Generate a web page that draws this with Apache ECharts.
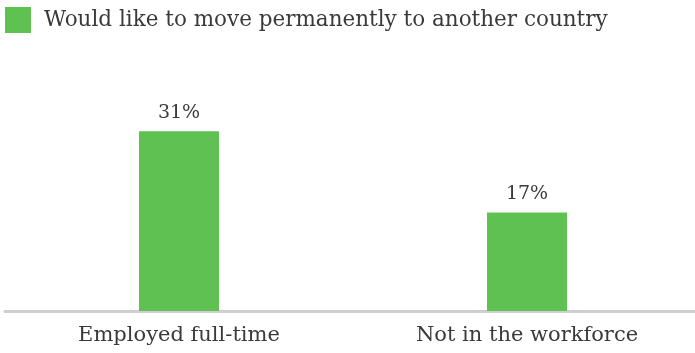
<!DOCTYPE html>
<html>
<head>
<meta charset="utf-8">
<script src="https://cdn.jsdelivr.net/npm/echarts@6/dist/echarts.min.js"></script>
<style>
  html, body { margin: 0; padding: 0; background: #fff; overflow: hidden; }
  #chart { width: 701px; height: 353px; }
</style>
</head>
<body>
<div id="chart"></div>
<script>
// Share who would like to move permanently to another country, by employment status
const categories = ['Employed full-time', 'Not in the workforce'];
const seriesName = 'Would like to move permanently to another country';
const values = [31, 17];

const FONT = '"DejaVu Serif", "Liberation Serif", Georgia, serif';
const GREEN = '#5fc152';
const TEXT = '#3a3a3a';

const chart = echarts.init(document.getElementById('chart'));
chart.setOption({
  animation: false,
  legend: {
    left: 5,
    top: 7,
    padding: 0,
    itemWidth: 26,
    itemHeight: 26,
    itemGap: 10,
    icon: 'rect',
    textStyle: { fontFamily: FONT, fontSize: 21.5, color: TEXT, padding: [0, 0, 0, 8] },
    data: [seriesName]
  },
  grid: { left: 5, right: 0, top: 79, bottom: 42, containLabel: false },
  xAxis: {
    type: 'category',
    data: categories,
    axisTick: { show: false },
    axisLine: { lineStyle: { color: '#cfcfcf', width: 3 } },
    axisLabel: { fontFamily: FONT, fontSize: 21, color: TEXT, margin: 14 }
  },
  yAxis: {
    type: 'value',
    min: 0,
    max: 40,
    show: false,
    splitLine: { show: false }
  },
  series: [{
    name: seriesName,
    type: 'bar',
    data: values,
    barWidth: 80,
    itemStyle: { color: GREEN },
    label: {
      show: true,
      position: 'top',
      distance: 9,
      formatter: '{c}%',
      fontFamily: FONT,
      fontSize: 19,
      color: TEXT
    }
  }]
});
</script>
</body>
</html>
